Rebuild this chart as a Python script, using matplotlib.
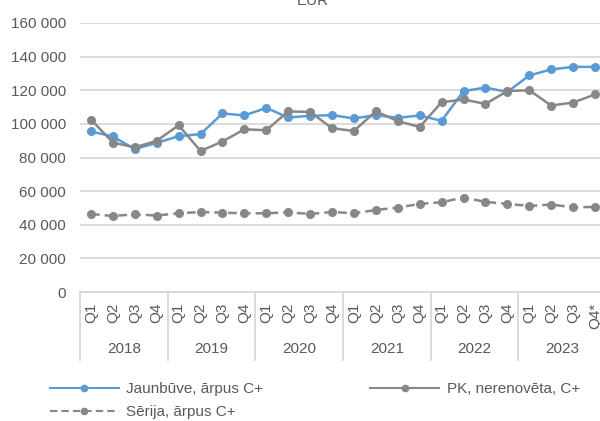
import matplotlib.pyplot as plt
from matplotlib.lines import Line2D

plt.rcParams['font.family'] = ['Liberation Sans', 'DejaVu Sans']

# Data (EUR)
years = ['2018', '2019', '2020', '2021', '2022', '2023']
quarters = ['Q1', 'Q2', 'Q3', 'Q4'] * 5 + ['Q1', 'Q2', 'Q3', 'Q4*']

jaunbuve = [95500, 92500, 85000, 88700, 92700, 93900, 106200, 105000,
            109500, 103800, 104800, 105200, 103200, 105200, 103600, 105000,
            101800, 119500, 121600, 119000, 128800, 132400, 133900, 133900]
pk_nerenoveta = [102600, 88900, 86000, 89900, 99200, 83900, 89500, 96800,
                 96200, 107400, 107100, 97400, 95800, 107500, 101600, 98200,
                 112900, 114500, 111900, 119500, 120000, 110900, 112700, 117500]
serija = [46400, 45200, 46200, 45500, 46800, 47600, 47200, 46800,
          46800, 47400, 46400, 47600, 46800, 48800, 50200, 52400,
          53400, 56200, 53600, 52400, 51200, 52000, 50400, 50600]

blue = '#5B9BD5'
grey = '#878787'
text_c = '#595959'
grid_c = '#D9D9D9'
dash = (0, (3.5, 2))

W, H = 600, 421
fig = plt.figure(figsize=(W / 100, H / 100), dpi=100)
ax_l, ax_r, ax_b, ax_t = 80, 606, 292, 23
ax = fig.add_axes([ax_l / W, 1 - ax_b / H, (ax_r - ax_l) / W, (ax_b - ax_t) / H])

x = list(range(len(quarters)))
ax.plot(x, jaunbuve, color=blue, lw=1.8, marker='o', ms=5.5, zorder=3)
ax.plot(x, pk_nerenoveta, color=grey, lw=1.8, marker='o', ms=5.5, zorder=3)
ax.plot(x, serija, color=grey, lw=1.8, ls=dash, marker='o', ms=5.5, zorder=3)

ax.set_xlim(-0.5, len(quarters) - 0.5)
ax.set_ylim(0, 160000)
ax.set_yticks(range(0, 160001, 20000))
ax.set_yticklabels([f'{v:,}'.replace(',', ' ') for v in range(0, 160001, 20000)])
ax.yaxis.grid(True, color=grid_c, lw=1.3)
ax.set_axisbelow(True)
for s in ['top', 'right', 'left']:
    ax.spines[s].set_visible(False)
ax.spines['bottom'].set_color(grid_c)
ax.spines['bottom'].set_linewidth(1.3)
ax.tick_params(axis='y', length=0, pad=10, labelsize=11, labelcolor=text_c)
ax.set_xticks(x)
ax.set_xticklabels(quarters, rotation=90, va='top', ha='center')
ax.tick_params(axis='x', length=0, pad=8, labelsize=11, labelcolor=text_c)

# year groups with separators
trans = ax.get_xaxis_transform()
sep_bottom = -(360 - ax_b) / (ax_b - ax_t)
for i in range(len(years) + 1):
    ax.plot([i * 4 - 0.5] * 2, [0, sep_bottom], transform=trans, color=grid_c,
            lw=1.3, clip_on=False)
for i, yr in enumerate(years):
    ax.text(i * 4 + 1.5, -(349 - ax_b) / (ax_b - ax_t), yr, transform=trans,
            ha='center', va='center', fontsize=11, color=text_c)

fig.text(313 / W, 1 - 5 / H, 'EUR', ha='center', va='baseline', fontsize=11, color=text_c)

handles = [Line2D([], [], color=blue, lw=1.5, marker='o', ms=4.5),
           Line2D([], [], color=grey, lw=1.5, ls=dash, marker='o', ms=4.5),
           Line2D([], [], color=grey, lw=1.5, marker='o', ms=4.5)]
labels = ['Jaunbūve, ārpus C+', 'Sērija, ārpus C+', 'PK, nerenovēta, C+']
fig.legend(handles, labels, ncol=2, loc='upper left',
           bbox_to_anchor=(50 / W, 1 - 382 / H), frameon=False, fontsize=11,
           labelcolor=text_c, handlelength=4.5, handletextpad=0.5,
           columnspacing=7.0, labelspacing=0.62, borderaxespad=0, borderpad=0)

fig.savefig('out.png', dpi=100)
